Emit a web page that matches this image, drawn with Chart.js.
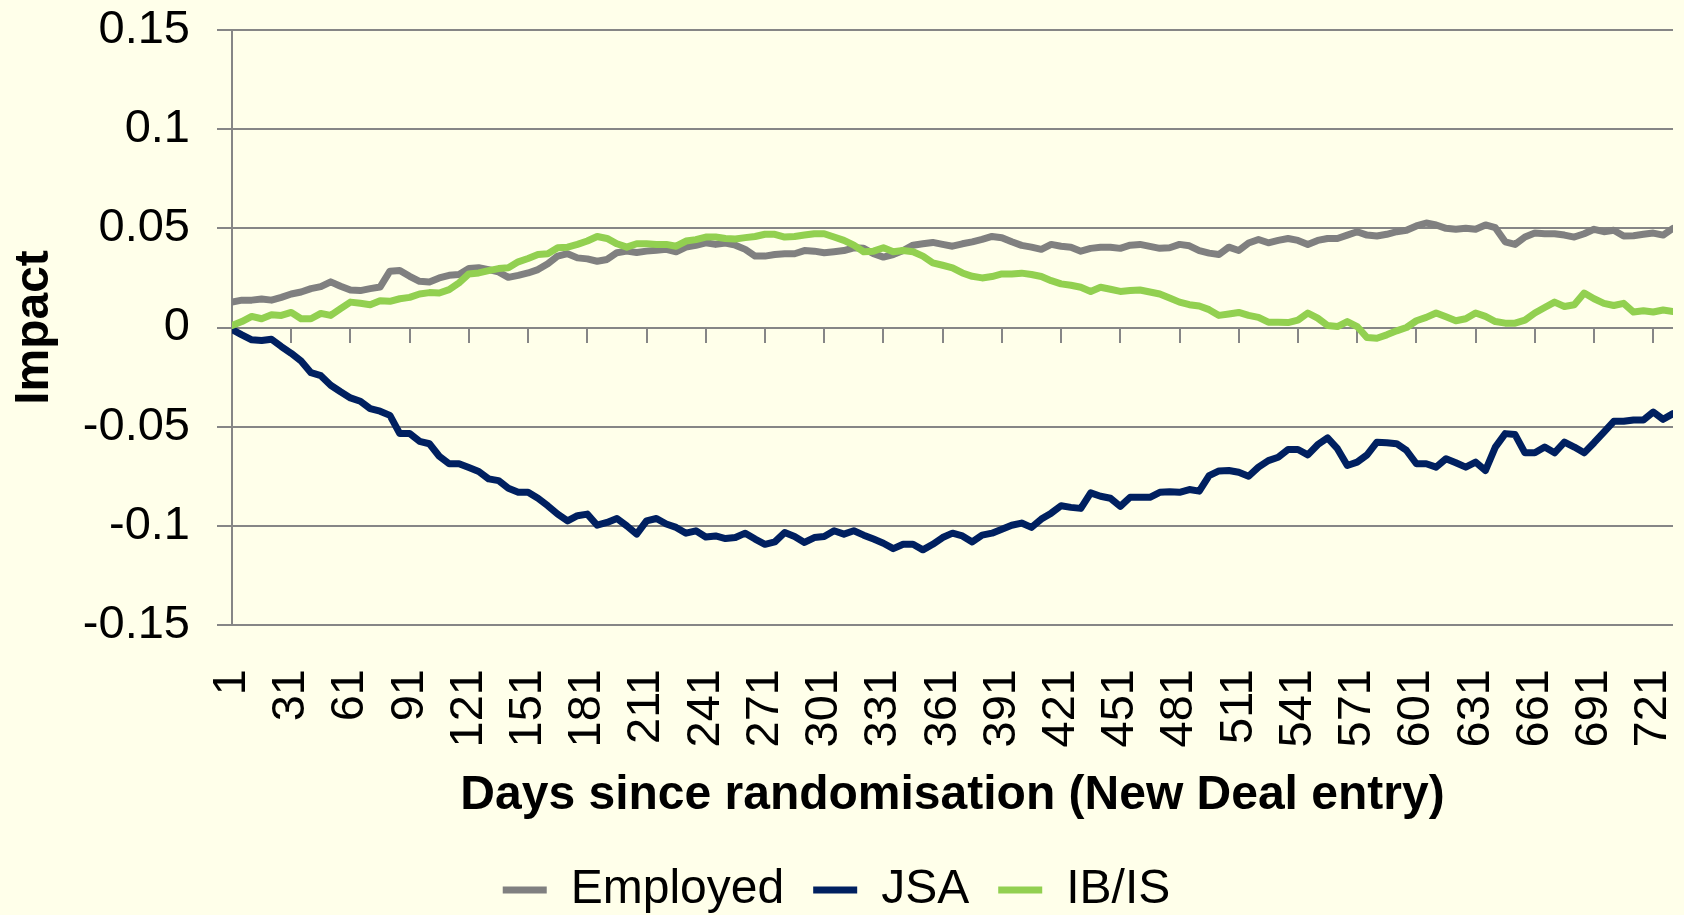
<!DOCTYPE html>
<html>
<head>
<meta charset="utf-8">
<title>Impact by days since randomisation</title>
<script src="https://cdn.jsdelivr.net/npm/chart.js@4.4.1/dist/chart.umd.min.js"></script>
<style>
  html, body { margin: 0; padding: 0; background: #FFFFEA; }
  #wrap { width: 1684px; height: 915px; }
</style>
</head>
<body>
<div id="wrap"><canvas id="impactChart" width="1684" height="915"></canvas></div>
<script>
const days = [
  1, 6, 11, 16, 21, 26, 31, 36, 41, 46, 51, 56, 61, 66, 71, 76, 81, 86, 91, 96, 101, 106, 111, 116, 121,
  126, 131, 136, 141, 146, 151, 156, 161, 166, 171, 176, 181, 186, 191, 196, 201, 206, 211, 216, 221, 226, 231, 236, 241,
  246, 251, 256, 261, 266, 271, 276, 281, 286, 291, 296, 301, 306, 311, 316, 321, 326, 331, 336, 341, 346, 351, 356, 361,
  366, 371, 376, 381, 386, 391, 396, 401, 406, 411, 416, 421, 426, 431, 436, 441, 446, 451, 456, 461, 466, 471, 476, 481, 486,
  491, 496, 501, 506, 511, 516, 521, 526, 531, 536, 541, 546, 551, 556, 561, 566, 571, 576, 581, 586, 591, 596, 601, 606,
  611, 616, 621, 626, 631, 636, 641, 646, 651, 656, 661, 666, 671, 676, 681, 686, 691, 696, 701, 706, 711, 716, 721, 726, 731
];

const employed = [
  0.0128, 0.0138, 0.0138, 0.0144, 0.0138, 0.0152, 0.0169, 0.0179, 0.0196, 0.0206, 0.0230, 0.0208, 0.0189, 0.0186, 0.0196, 0.0204, 0.0284, 0.0287, 0.0258, 0.0233, 0.0230, 0.0250, 0.0263, 0.0267, 0.0297,
  0.0301, 0.0292, 0.0280, 0.0253, 0.0263, 0.0275, 0.0292, 0.0321, 0.0360, 0.0372, 0.0351, 0.0346, 0.0334, 0.0343, 0.0377, 0.0385, 0.0378, 0.0385, 0.0390, 0.0394, 0.0382, 0.0405, 0.0414, 0.0427,
  0.0419, 0.0426, 0.0415, 0.0394, 0.0360, 0.0360, 0.0368, 0.0372, 0.0372, 0.0388, 0.0385, 0.0377, 0.0382, 0.0388, 0.0402, 0.0399, 0.0372, 0.0355, 0.0368, 0.0388, 0.0415, 0.0422, 0.0429, 0.0419,
  0.0410, 0.0422, 0.0432, 0.0444, 0.0459, 0.0453, 0.0432, 0.0414, 0.0405, 0.0394, 0.0419, 0.0410, 0.0405, 0.0385, 0.0399, 0.0405, 0.0405, 0.0399, 0.0415, 0.0419, 0.0409, 0.0399, 0.0402, 0.0419, 0.0412,
  0.0388, 0.0375, 0.0368, 0.0405, 0.0388, 0.0426, 0.0444, 0.0427, 0.0439, 0.0449, 0.0439, 0.0419, 0.0439, 0.0449, 0.0449, 0.0466, 0.0483, 0.0466, 0.0461, 0.0470, 0.0483, 0.0490, 0.0512, 0.0527,
  0.0517, 0.0500, 0.0495, 0.0500, 0.0495, 0.0517, 0.0503, 0.0432, 0.0419, 0.0456, 0.0476, 0.0473, 0.0473, 0.0466, 0.0456, 0.0473, 0.0495, 0.0483, 0.0490, 0.0461, 0.0463, 0.0470, 0.0476, 0.0466, 0.0500
];

const jsa = [
  -0.0010, -0.0037, -0.0062, -0.0066, -0.0059, -0.0096, -0.0130, -0.0169, -0.0228, -0.0243, -0.0291, -0.0324, -0.0355, -0.0372, -0.0409, -0.0422, -0.0443, -0.0535, -0.0535, -0.0574, -0.0586, -0.0649, -0.0687, -0.0687, -0.0706,
  -0.0726, -0.0763, -0.0772, -0.0811, -0.0831, -0.0831, -0.0861, -0.0899, -0.0941, -0.0975, -0.0949, -0.0941, -0.0997, -0.0983, -0.0963, -0.1000, -0.1042, -0.0975, -0.0963, -0.0991, -0.1008, -0.1037, -0.1025, -0.1056,
  -0.1051, -0.1064, -0.1059, -0.1037, -0.1067, -0.1093, -0.1081, -0.1034, -0.1054, -0.1084, -0.1059, -0.1054, -0.1025, -0.1042, -0.1025, -0.1047, -0.1067, -0.1088, -0.1115, -0.1093, -0.1093, -0.1121, -0.1093, -0.1059,
  -0.1037, -0.1051, -0.1081, -0.1047, -0.1037, -0.1017, -0.0997, -0.0986, -0.1008, -0.0966, -0.0936, -0.0899, -0.0907, -0.0912, -0.0834, -0.0851, -0.0861, -0.0902, -0.0856, -0.0856, -0.0856, -0.0831, -0.0828, -0.0831, -0.0817,
  -0.0825, -0.0747, -0.0723, -0.0721, -0.0730, -0.0750, -0.0704, -0.0671, -0.0654, -0.0615, -0.0615, -0.0642, -0.0591, -0.0557, -0.0611, -0.0696, -0.0679, -0.0642, -0.0578, -0.0581, -0.0586, -0.0620, -0.0687, -0.0687,
  -0.0704, -0.0662, -0.0682, -0.0704, -0.0679, -0.0721, -0.0603, -0.0535, -0.0540, -0.0632, -0.0632, -0.0603, -0.0632, -0.0578, -0.0603, -0.0632, -0.0581, -0.0527, -0.0473, -0.0473, -0.0466, -0.0466, -0.0426, -0.0463, -0.0434
];

const ibis = [
  0.0010, 0.0030, 0.0056, 0.0044, 0.0064, 0.0061, 0.0076, 0.0044, 0.0044, 0.0071, 0.0061, 0.0095, 0.0128, 0.0122, 0.0115, 0.0135, 0.0132, 0.0145, 0.0152, 0.0169, 0.0176, 0.0174, 0.0191, 0.0225, 0.0270,
  0.0275, 0.0287, 0.0297, 0.0301, 0.0331, 0.0348, 0.0368, 0.0372, 0.0402, 0.0405, 0.0419, 0.0436, 0.0459, 0.0449, 0.0422, 0.0405, 0.0422, 0.0422, 0.0419, 0.0419, 0.0410, 0.0436, 0.0443, 0.0456,
  0.0456, 0.0449, 0.0446, 0.0453, 0.0459, 0.0470, 0.0470, 0.0456, 0.0459, 0.0466, 0.0473, 0.0473, 0.0456, 0.0439, 0.0415, 0.0382, 0.0385, 0.0402, 0.0382, 0.0388, 0.0382, 0.0360, 0.0326, 0.0314,
  0.0301, 0.0275, 0.0258, 0.0250, 0.0257, 0.0270, 0.0270, 0.0274, 0.0267, 0.0257, 0.0236, 0.0220, 0.0213, 0.0203, 0.0182, 0.0203, 0.0193, 0.0182, 0.0186, 0.0189, 0.0179, 0.0169, 0.0149, 0.0128, 0.0115,
  0.0108, 0.0090, 0.0061, 0.0068, 0.0076, 0.0061, 0.0051, 0.0027, 0.0027, 0.0025, 0.0037, 0.0073, 0.0047, 0.0010, 0.0005, 0.0030, 0.0005, -0.0051, -0.0054, -0.0037, -0.0017, 0.0000, 0.0034, 0.0051,
  0.0073, 0.0054, 0.0034, 0.0044, 0.0073, 0.0056, 0.0030, 0.0022, 0.0022, 0.0037, 0.0073, 0.0101, 0.0128, 0.0106, 0.0115, 0.0174, 0.0145, 0.0122, 0.0111, 0.0122, 0.0078, 0.0084, 0.0078, 0.0088, 0.0081
];

// x tick labels every 30 days
const tickDays = [1, 31, 61, 91, 121, 151, 181, 211, 241, 271, 301, 331, 361, 391, 421, 451, 481, 511, 541, 571, 601, 631, 661, 691, 721];

const FONT = '"Liberation Sans", Arial, sans-serif';
const GRID = '#868686';

function setDayTicks(scale) {
    scale.ticks = tickDays.map(v => ({ value: v }));
}

function series(label, data, color, order) {
    return {
        label, data, order,
        borderColor: color, backgroundColor: color,
        borderWidth: 7, pointRadius: 0, pointHoverRadius: 0,
        pointStyle: 'line', borderCapStyle: 'round', borderJoinStyle: 'round',
        tension: 0, fill: false
    };
}

new Chart(document.getElementById('impactChart'), {
    type: 'line',
    data: {
        labels: days,
        datasets: [
            series('Employed', employed, '#808080', 2),
            series('JSA', jsa, '#002060', 1),
            series('IB/IS', ibis, '#92D050', 0)
        ]
    },
    options: {
        responsive: false,
        animation: false,
        layout: { padding: { top: 30, right: 11, left: 0, bottom: -9 } },
        plugins: {
            tooltip: { enabled: false },
            legend: {
                position: 'bottom',
                labels: {
                    usePointStyle: true,
                    pointStyleWidth: 44,
                    padding: 29,
                    color: '#000',
                    font: { family: FONT, size: 48 },
                    sort: (a, b) => a.datasetIndex - b.datasetIndex
                }
            }
        },
        scales: {
            x: {
                type: 'linear',
                min: 1, max: 731,
                afterBuildTicks: setDayTicks,
                afterFit: (s) => { s.height = 212; s.paddingLeft = 0; s.paddingRight = 0; },
                grid: { display: false },
                border: { display: false },
                ticks: {
                    autoSkip: false, minRotation: 90, maxRotation: 90,
                    padding: 36, color: '#000',
                    font: { family: FONT, size: 47 }
                },
                title: {
                    display: true,
                    text: 'Days since randomisation (New Deal entry)',
                    color: '#000',
                    font: { family: FONT, size: 48, weight: 'bold' },
                    padding: { top: 22, bottom: 12 }
                }
            },
            x2: {
                type: 'linear',
                axis: 'x',
                position: { y: 0 },
                min: 1, max: 731,
                afterBuildTicks: setDayTicks,
                afterFit: (s) => { s.height = 0; },
                grid: { display: true, drawOnChartArea: false, drawTicks: true, tickLength: 15, color: GRID, lineWidth: 2 },
                border: { display: false },
                ticks: { display: false }
            },
            y: {
                min: -0.15, max: 0.15,
                afterFit: (s) => { s.width = 232; s.paddingTop = 0; s.paddingBottom = 0; },
                grid: { color: GRID, lineWidth: 2, drawTicks: true, tickLength: 15 },
                border: { display: true, color: GRID, width: 2 },
                ticks: {
                    stepSize: 0.05, padding: 27, color: '#000',
                    font: { family: FONT, size: 47 },
                    callback: (v) => String(+v.toFixed(2))
                },
                title: {
                    display: true,
                    text: 'Impact',
                    color: '#000',
                    font: { family: FONT, size: 48, weight: 'bold' },
                    padding: { top: 6, bottom: 0 }
                }
            }
        }
    }
});
</script>
</body>
</html>
